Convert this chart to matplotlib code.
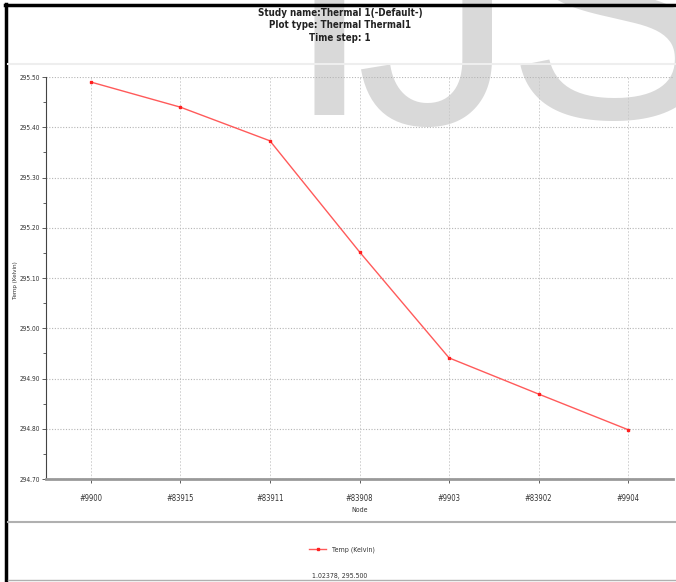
import matplotlib
matplotlib.use("Agg")
import matplotlib.pyplot as plt
from matplotlib.lines import Line2D
from matplotlib.ticker import MultipleLocator, FormatStrFormatter

# Node temperatures along the path
nodes = ["#9900", "#83915", "#83911", "#83908", "#9903", "#83902", "#9904"]
temps = [295.490, 295.440, 295.373, 295.152, 294.941, 294.869, 294.798]

title_lines = ["Study name:Thermal 1(-Default-)", "Plot type: Thermal Thermal1", "Time step: 1"]
cursor_text = "1.02378, 295.500"

plt.rcParams['font.family'] = ['DejaVu Sans']
plt.rcParams['font.stretch'] = 'condensed'

W, H = 676, 582
fig = plt.figure(figsize=(W / 100, H / 100), dpi=100)
fig.patch.set_facecolor("white")


def fx(px):
    return px / W


def fy(py):
    return 1 - py / H


# watermark letters behind everything
for ch, cx, base in zip("IJS", [329, 436, 612], [115, 124, 118]):
    fig.text(fx(cx), fy(base), ch, fontsize=230, color="#d9d9d9", ha="center",
             va="baseline", family="Liberation Sans", stretch="normal", zorder=-5)

# outer frame
fig.add_artist(Line2D([fx(6), fx(6)], [fy(4), fy(582)], color="black", lw=2.5))
fig.add_artist(Line2D([fx(5), fx(676)], [fy(5), fy(5)], color="black", lw=2.5))
fig.add_artist(Line2D([fx(8), fx(676)], [fy(64), fy(64)], color="#eeeeee", lw=1.5))
fig.add_artist(Line2D([fx(8), fx(676)], [fy(522), fy(522)], color="#b0b0b0", lw=1.5))
fig.add_artist(Line2D([fx(8), fx(676)], [fy(580), fy(580)], color="#b0b0b0", lw=1.0))

# title block
for i, line in enumerate(title_lines):
    fig.text(fx(340), fy(13 + 12.5 * i), line, fontsize=7, ha="center", va="center",
             fontweight="bold", color="#222222")

ax = fig.add_axes([fx(46), fy(479), fx(673) - fx(46), fy(77) - fy(479)])
ax.set_facecolor("none")

x = list(range(len(nodes)))
ax.plot(x, temps, color="#ff5a5a", lw=1.0, marker="s", markersize=1.8,
        markerfacecolor="#ff2020", markeredgecolor="#ff2020", label="Temp (Kelvin)")

ax.set_xlim(-0.5, 6.5)
ax.set_ylim(294.70, 295.50)
ax.set_xticks(x)
ax.set_xticklabels(nodes)
ax.yaxis.set_major_locator(MultipleLocator(0.1))
ax.yaxis.set_minor_locator(MultipleLocator(0.05))
ax.yaxis.set_major_formatter(FormatStrFormatter("%.2f"))

ax.grid(axis="y", which="major", color="#b5b5b5", linestyle=(0, (1, 1.5)), lw=0.8)
ax.grid(axis="x", which="major", color="#c8c8c8", linestyle=(0, (2, 2)), lw=0.6)

for side in ["top", "right"]:
    ax.spines[side].set_visible(False)
ax.spines["left"].set_color("#444444")
ax.spines["left"].set_linewidth(0.8)
ax.spines["bottom"].set_color("#999999")
ax.spines["bottom"].set_linewidth(2.0)

ax.tick_params(axis="y", which="major", length=3, width=0.6, color="#444444",
               labelsize=4.7, pad=1, labelcolor="#333333")
ax.tick_params(axis="y", which="minor", length=2, width=0.6, color="#444444")
ax.tick_params(axis="x", length=3, width=0.6, color="#444444", labelsize=5.5,
               pad=8, labelcolor="#333333")

ax.set_xlabel("Node", fontsize=5, color="#333333", labelpad=3)
fig.text(fx(16), fy(280), "Temp (Kelvin)", fontsize=4.5, color="#333333",
         rotation=90, ha="center", va="center")

fig.legend(loc="center", bbox_to_anchor=(fx(342), fy(550)), frameon=False,
           fontsize=5, handlelength=2.5, labelcolor="#333333")

fig.text(fx(340), fy(576), cursor_text, fontsize=5, ha="center", va="center", color="#333333")

fig.savefig("out.png", dpi=100)
